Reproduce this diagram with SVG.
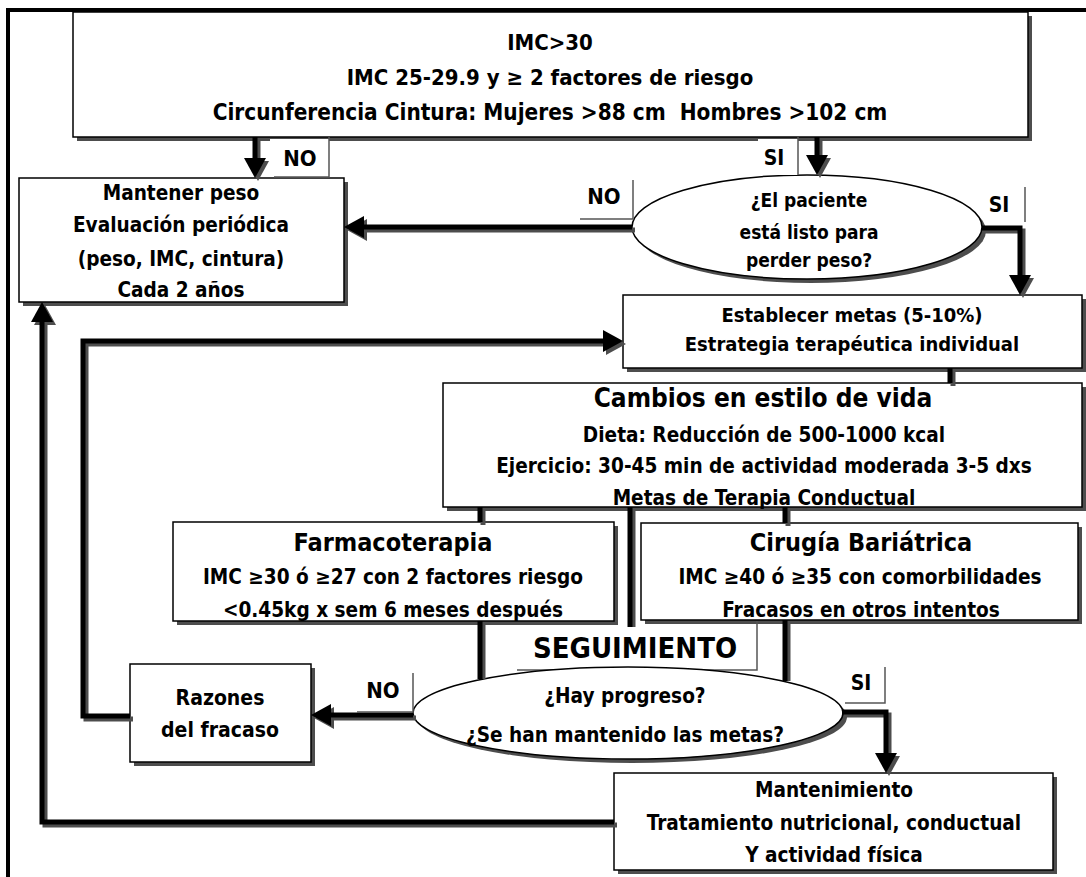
<svg xmlns="http://www.w3.org/2000/svg" width="1086" height="877" viewBox="0 0 1086 877">
  <style>
    text { font-family: "DejaVu Sans Condensed", "DejaVu Sans", sans-serif; font-weight: bold; fill: #000; text-anchor: middle; }
    .box { fill: #fff; stroke: #000; stroke-width: 1.5; }
    .shadow { fill: #4d4d4d; }
    .wire { fill: none; stroke: #000; stroke-width: 5; }
    .wire-sh { fill: none; stroke: #4d4d4d; stroke-width: 5; }
    .tag { fill: #fff; }
    .tag-edge { fill: none; stroke: #555; stroke-width: 1.5; }
    .t22 { font-size: 22px; }
    .tb { font-size: 20.6px; }
    .t20 { font-size: 20px; }
    .t19 { font-size: 19px; }
    .t21 { font-size: 21px; }
    .t25 { font-size: 25px; }
    .t26 { font-size: 26px; }
    .t29 { font-size: 29px; }
  </style>
  <defs>
    <marker id="ah" markerWidth="20" markerHeight="22" refX="12" refY="11" orient="auto" markerUnits="userSpaceOnUse">
      <path d="M0,0 L20,11 L0,22 Z" fill="#000"/>
    </marker>
    <marker id="ah-sh" markerWidth="20" markerHeight="22" refX="12" refY="11" orient="auto" markerUnits="userSpaceOnUse">
      <path d="M0,0 L20,11 L0,22 Z" fill="#4d4d4d"/>
    </marker>
  </defs>

  <rect width="1086" height="877" fill="#fff"/>

  <!-- page frame (top and left rules) -->
  <g id="frame">
    <line x1="6" y1="10" x2="1086" y2="10" stroke="#000" stroke-width="4"/>
    <line x1="8" y1="8" x2="8" y2="877" stroke="#000" stroke-width="4"/>
  </g>

  <g id="criterios">
    <rect class="shadow" x="77" y="16" width="955" height="125"/>
    <rect class="box" x="73" y="12" width="955" height="125"/>
    <text class="t22" x="550" y="50">IMC&gt;30</text>
    <text class="t22" x="550" y="85">IMC 25-29.9 y ≥ 2 factores de riesgo</text>
    <text x="550" y="120" style="font-size:22.4px">Circunferencia Cintura: Mujeres &gt;88 cm&#160; Hombres &gt;102 cm</text>
  </g>

  <g id="mantener-peso">
    <rect class="shadow" x="23" y="182" width="325" height="124"/>
    <rect class="box" x="19" y="178" width="325" height="124"/>
    <text class="tb" x="181" y="200">Mantener peso</text>
    <text class="tb" x="181" y="232">Evaluación periódica</text>
    <text class="tb" x="181" y="266">(peso, IMC, cintura)</text>
    <text class="tb" x="181" y="297">Cada 2 años</text>
  </g>

  <g id="listo">
    <ellipse class="shadow" cx="811" cy="231" rx="175" ry="52"/>
    <ellipse class="box" cx="807" cy="227" rx="175" ry="52"/>
    <text class="t19" x="809" y="207">¿El paciente</text>
    <text class="t19" x="809" y="239">está listo para</text>
    <text class="t19" x="809" y="267">perder peso?</text>
  </g>

  <g id="metas">
    <rect class="shadow" x="627" y="299" width="459" height="73"/>
    <rect class="box" x="623" y="295" width="459" height="73"/>
    <text class="t20" x="852" y="322">Establecer metas (5-10%)</text>
    <text class="t20" x="852" y="351">Estrategia terapéutica individual</text>
  </g>

  <g id="estilo-vida">
    <rect class="shadow" x="447" y="387" width="639" height="124"/>
    <rect class="box" x="443" y="383" width="639" height="124"/>
    <text class="t26" x="763" y="407">Cambios en estilo de vida</text>
    <text class="tb" x="764" y="442">Dieta: Reducción de 500-1000 kcal</text>
    <text class="tb" x="764" y="473">Ejercicio: 30-45 min de actividad moderada 3-5 dxs</text>
    <text class="tb" x="764" y="505">Metas de Terapia Conductual</text>
  </g>

  <g id="farmacoterapia">
    <rect class="shadow" x="177" y="526" width="441" height="99"/>
    <rect class="box" x="173" y="522" width="441" height="99"/>
    <text class="t25" x="393" y="551">Farmacoterapia</text>
    <text class="tb" x="393" y="584">IMC ≥30 ó ≥27 con 2 factores riesgo</text>
    <text class="tb" x="393" y="617">&lt;0.45kg x sem 6 meses después</text>
  </g>

  <g id="cirugia">
    <rect class="shadow" x="645" y="527" width="437" height="97"/>
    <rect class="box" x="641" y="523" width="437" height="97"/>
    <text class="t25" x="861" y="551">Cirugía Bariátrica</text>
    <text class="tb" x="860" y="584">IMC ≥40 ó ≥35 con comorbilidades</text>
    <text class="tb" x="861" y="617">Fracasos en otros intentos</text>
  </g>

  <g id="seguimiento">
    <rect class="tag" x="517" y="627" width="240" height="43"/>
    <path class="tag-edge" d="M757,621 V670 H517"/>
    <text class="t29" x="635" y="658">SEGUIMIENTO</text>
  </g>

  <g id="progreso">
    <ellipse class="shadow" cx="632" cy="717" rx="215" ry="46"/>
    <ellipse class="box" cx="628" cy="713" rx="215" ry="46"/>
    <text class="tb" x="625" y="703">¿Hay progreso?</text>
    <text class="tb" x="625" y="742">¿Se han mantenido las metas?</text>
  </g>

  <g id="razones">
    <rect class="shadow" x="134" y="668" width="181" height="98"/>
    <rect class="box" x="130" y="664" width="181" height="98"/>
    <text class="t21" x="220" y="705">Razones</text>
    <text class="t21" x="220" y="737">del fracaso</text>
  </g>

  <g id="mantenimiento">
    <rect class="shadow" x="618" y="777" width="439" height="97"/>
    <rect class="box" x="614" y="773" width="439" height="97"/>
    <text class="tb" x="834" y="797">Mantenimiento</text>
    <text class="tb" x="834" y="830">Tratamiento nutricional, conductual</text>
    <text class="tb" x="834" y="862">Y actividad física</text>
  </g>

  <!-- connectors: shadow copy first, then the black line with its arrowhead -->
  <g id="connectors">
    <g transform="translate(3,3)">
      <path class="wire-sh" d="M255,137 V170" marker-end="url(#ah-sh)"/>
      <path class="wire-sh" d="M817,137 V167" marker-end="url(#ah-sh)"/>
      <path class="wire-sh" d="M632,227 H352" marker-end="url(#ah-sh)"/>
      <path class="wire-sh" d="M982,228 H1020 V287" marker-end="url(#ah-sh)"/>
      <path class="wire-sh" d="M950,368 V383"/>
      <path class="wire-sh" d="M480,507 V522"/>
      <path class="wire-sh" d="M785,507 V523"/>
      <path class="wire-sh" d="M630,507 V624"/>
      <path class="wire-sh" d="M480,621 V676"/>
      <path class="wire-sh" d="M785,620 V678"/>
      <path class="wire-sh" d="M413,715 H319" marker-end="url(#ah-sh)"/>
      <path class="wire-sh" d="M130,716 H83 V341 H615" marker-end="url(#ah-sh)"/>
      <path class="wire-sh" d="M842,712 H886 V765" marker-end="url(#ah-sh)"/>
      <path class="wire-sh" d="M614,822 H42 V310" marker-end="url(#ah-sh)"/>
    </g>
    <path class="wire" d="M255,137 V170" marker-end="url(#ah)"/>
    <path class="wire" d="M817,137 V167" marker-end="url(#ah)"/>
    <path class="wire" d="M632,227 H352" marker-end="url(#ah)"/>
    <path class="wire" d="M982,228 H1020 V287" marker-end="url(#ah)"/>
    <path class="wire" d="M950,368 V383"/>
    <path class="wire" d="M480,507 V522"/>
    <path class="wire" d="M785,507 V523"/>
    <path class="wire" d="M630,507 V627"/>
    <path class="wire" d="M480,621 V679"/>
    <path class="wire" d="M785,620 V681"/>
    <path class="wire" d="M413,715 H319" marker-end="url(#ah)"/>
    <path class="wire" d="M130,716 H83 V341 H615" marker-end="url(#ah)"/>
    <path class="wire" d="M842,712 H886 V765" marker-end="url(#ah)"/>
    <path class="wire" d="M614,822 H42 V310" marker-end="url(#ah)"/>
  </g>

  <!-- branch tags -->
  <g id="tags">
    <g id="tag-no-1">
      <rect class="tag" x="270" y="139" width="59" height="38"/>
      <path class="tag-edge" d="M329,137 V177 H274"/>
      <text class="t22" x="300" y="166">NO</text>
    </g>
    <g id="tag-si-1">
      <rect class="tag" x="758" y="139" width="40" height="36"/>
      <path class="tag-edge" d="M798,137 V175"/>
      <text class="t21" x="774" y="165">SI</text>
    </g>
    <g id="tag-no-2">
      <rect class="tag" x="580" y="180" width="53" height="39"/>
      <path class="tag-edge" d="M633,180 V219 H580"/>
      <text class="t22" x="604" y="204">NO</text>
    </g>
    <g id="tag-si-2">
      <rect class="tag" x="985" y="187" width="40" height="35"/>
      <path class="tag-edge" d="M1025,187 V222"/>
      <text class="t21" x="999" y="212">SI</text>
    </g>
    <g id="tag-no-3">
      <rect class="tag" x="357" y="673" width="56" height="39"/>
      <path class="tag-edge" d="M413,673 V712 H357"/>
      <text class="t22" x="383" y="698">NO</text>
    </g>
    <g id="tag-si-3">
      <rect class="tag" x="845" y="667" width="40" height="36"/>
      <path class="tag-edge" d="M885,667 V703 H845"/>
      <text class="t21" x="861" y="690">SI</text>
    </g>
  </g>
</svg>
